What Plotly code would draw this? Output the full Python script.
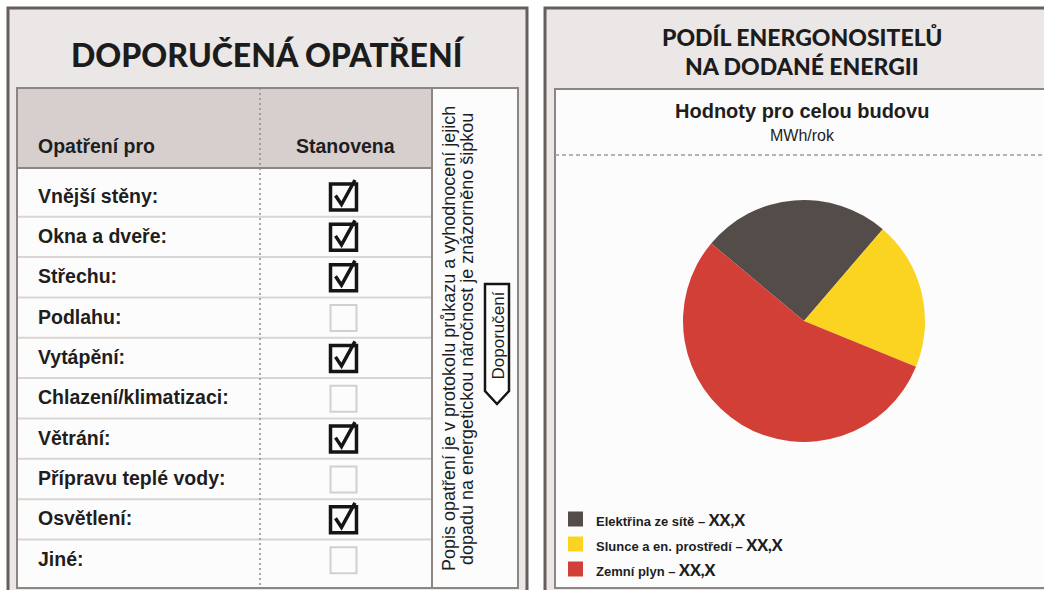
import plotly.graph_objects as go

# ---------------- data ----------------
measures = ["Vnější stěny:", "Okna a dveře:", "Střechu:", "Podlahu:", "Vytápění:",
            "Chlazení/klimatizaci:", "Větrání:", "Přípravu teplé vody:", "Osvětlení:", "Jiné:"]
established = [1, 1, 1, 0, 1, 0, 1, 0, 1, 0]

carriers = ["Elektřina ze sítě", "Slunce a en. prostředí", "Zemní plyn"]
carrier_shares = [25.2, 19.9, 54.9]
carrier_value_labels = ["XX,X", "XX,X", "XX,X"]
carrier_colors = ["#544c48", "#fbd422", "#d13f37"]

left_title = "DOPORUČENÁ OPATŘENÍ"
right_title = ["PODÍL ENERGONOSITELŮ", "NA DODANÉ ENERGII"]
col_headers = ["Opatření pro", "Stanovena"]
side_note = ["Popis opatření je v protokolu průkazu a vyhodnocení jejich",
             "dopadu na energetickou náročnost je znázorněno šipkou"]
badge_text = "Doporučení"
chart_title = "Hodnoty pro celou budovu"
chart_unit = "MWh/rok"

# ---------------- layout helpers ----------------
W, H = 1044, 590
SANS = "Liberation Sans, Arial, sans-serif"


def px(x):
    return x / W


def py(y):
    return 1 - y / H


shapes = []
annotations = []


def rect(x0, y0, x1, y1, fill=None, color=None, width=0, layer="below", dash=None):
    line = dict(width=width)
    if color:
        line["color"] = color
    if dash:
        line["dash"] = dash
    shapes.append(dict(type="rect", xref="paper", yref="paper",
                       x0=px(x0), x1=px(x1), y0=py(y0), y1=py(y1),
                       fillcolor=fill if fill else "rgba(0,0,0,0)", line=line, layer=layer))


def seg(x0, y0, x1, y1, color, width, dash=None, layer="below"):
    line = dict(color=color, width=width)
    if dash:
        line["dash"] = dash
    shapes.append(dict(type="line", xref="paper", yref="paper",
                       x0=px(x0), x1=px(x1), y0=py(y0), y1=py(y1), line=line, layer=layer))


def path(points, color, width, fill=None, close=False, layer="above"):
    d = "M " + " L ".join(f"{px(x):.6f},{py(y):.6f}" for x, y in points)
    if close:
        d += " Z"
    shapes.append(dict(type="path", xref="paper", yref="paper", path=d,
                       line=dict(color=color, width=width),
                       fillcolor=fill if fill else "rgba(0,0,0,0)", layer=layer))


def text(x, y, s, size, family=SANS, weight="normal", color="#1e1e1e",
         xanchor="center", yanchor="middle", angle=0):
    annotations.append(dict(xref="paper", yref="paper", x=px(x), y=py(y), text=s,
                            showarrow=False, xanchor=xanchor, yanchor=yanchor,
                            textangle=angle,
                            font=dict(family=family, size=size, color=color, weight=weight)))


FRAME = "#655e5a"
PANEL = "#ebe7e6"
HEAD = "#d7cfcd"
BORDER = "#8c8582"
ROWLINE = "#dad5d2"
DARK = "#1c1c1c"

# ---------------- left panel ----------------
rect(8, 8, 527, 596, fill=PANEL, color=FRAME, width=3)
text(267.5, 54, left_title, 32, family="Lato", weight=900, color=DARK)

tbl_x0, tbl_x1, side_x, tbl_y0, head_y1, tbl_y1 = 17, 518, 432, 88, 168, 588
rect(tbl_x0, tbl_y0, tbl_x1, tbl_y1, fill="#fdfcfc", layer="below")
rect(tbl_x0, tbl_y0, side_x, head_y1, fill=HEAD, layer="below")

row0, row_h = 196.5, 40.35
for i in range(len(measures) - 1):
    yl = row0 + row_h * (i + 0.5)
    seg(tbl_x0, yl, side_x, yl, ROWLINE, 2)
seg(tbl_x0, head_y1, side_x, head_y1, BORDER, 2)
seg(260, tbl_y0, 260, tbl_y1, "#8d8d8d", 1.5, dash="2px,3px")
seg(side_x, tbl_y0, side_x, tbl_y1, BORDER, 2)
rect(tbl_x0, tbl_y0, tbl_x1, tbl_y1, color=BORDER, width=2, layer="below")

text(36, 146, col_headers[0], 19.5, weight="bold", xanchor="left")
text(345, 146, col_headers[1], 19.5, weight="bold")

cbx = 343.5
for i, (m, e) in enumerate(zip(measures, established)):
    cy = row0 + row_h * i
    text(36, cy - 1, m, 19.5, weight="bold", xanchor="left")
    if e:
        rect(cbx - 13, cy - 12.5, cbx + 13, cy + 13.5, color="#151515", width=3.5, layer="above")
        path([(cbx - 8, cy - 1), (cbx - 2, cy + 8), (cbx + 11.5, cy - 16.5)], "#151515", 3.5)
    else:
        rect(cbx - 13, cy - 12.5, cbx + 13, cy + 13.5, color="#d3cfcc", width=2, layer="above")

# side note column
text(449, 339, side_note[0], 18, angle=-90)
text(467, 339, side_note[1], 18, angle=-90)
path([(485, 284), (509, 284), (509, 391), (497, 404), (485, 391)], "#151515", 2.5,
     fill="#ffffff", close=True)
text(497.5, 336, badge_text, 17, angle=-90)

# ---------------- right panel ----------------
rect(545, 8, 1060, 596, fill=PANEL, color=FRAME, width=3)
text(802, 37, right_title[0], 23, family="Lato", weight=900, color=DARK)
text(802, 66, right_title[1], 23, family="Lato", weight=900, color=DARK)
rect(555, 89, 1060, 588, fill="#fdfcfc", color=BORDER, width=2)
text(802, 111, chart_title, 20, weight="bold")
text(802, 135, chart_unit, 16)
seg(555, 155, 1044, 155, "#9a9a9a", 1.5, dash="4px,3px")

# legend (custom, from data)
leg_y0, leg_dy = 519, 25
for i, (c, col, v) in enumerate(zip(carriers, carrier_colors, carrier_value_labels)):
    ly = leg_y0 + leg_dy * i
    rect(568, ly - 7.5, 583, ly + 7.5, fill=col, layer="above")
    text(594, ly, f'{c} – <span style="font-family:Lato;font-size:16px;font-weight:900">{v}</span>',
         13, weight="bold", xanchor="left")

# ---------------- pie ----------------
cx, cy, r = 804, 321, 121
fig = go.Figure(go.Pie(
    labels=carriers, values=carrier_shares,
    marker=dict(colors=carrier_colors, line=dict(width=0)),
    sort=False, direction="clockwise", rotation=-50.1,
    textinfo="none", hoverinfo="label+percent", showlegend=False,
    domain=dict(x=[px(cx - r), px(cx + r)], y=[py(cy + r), py(cy - r)]),
))

fig.update_layout(
    width=W, height=H, margin=dict(l=0, r=0, t=0, b=0),
    paper_bgcolor="#ffffff", plot_bgcolor="#ffffff",
    shapes=shapes, annotations=annotations, showlegend=False,
)

fig.write_html("out.html")
